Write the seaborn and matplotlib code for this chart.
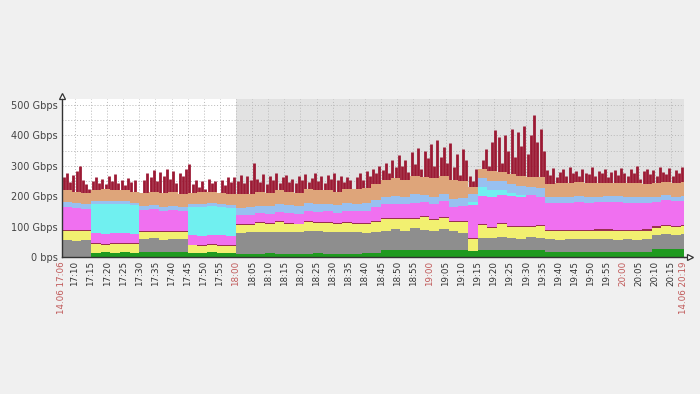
import numpy as np
import pandas as pd
import matplotlib
matplotlib.use("Agg")
import matplotlib.pyplot as plt
import seaborn as sns

# time axis: 14.06 17:06 -> 20:19, minute offsets
start = pd.Timestamp("2000-06-14 17:06")
span = 193
layer_min = np.arange(0, 193, 3)      # layers sampled every 3 minutes
total_min = np.arange(0, 194)         # top (red) series per minute

# stacked layers, Gbps (bottom -> top)
green = [0, 0, 0, 14, 15, 13, 15, 14, 18, 17, 18, 16, 18, 14, 13, 15, 14, 13,
         10, 11, 10, 12, 10, 11, 10, 11, 12, 10, 11, 10, 11, 12, 14,
         22, 23, 22, 24, 23, 22, 24, 23, 22, 20, 22, 23, 22, 24, 23, 22, 23,
         17, 16, 17, 16, 17, 16, 17, 16, 17, 16, 18, 25, 26, 25, 26]
gray = [55, 52, 56, 0, 0, 0, 0, 0, 40, 45, 38, 44, 40, 0, 0, 0, 0, 0,
        68, 70, 72, 70, 73, 71, 72, 74, 72, 73, 71, 72, 70, 66, 68,
        65, 68, 62, 70, 66, 64, 68, 62, 58, 0, 42, 38, 45, 40, 36, 44, 40,
        42, 41, 43, 42, 41, 42, 43, 41, 42, 41, 42, 48, 50, 49, 50]
yellow = [30, 34, 28, 28, 26, 29, 27, 28, 24, 20, 26, 22, 25, 24, 22, 25, 23, 24,
          28, 24, 30, 26, 32, 28, 25, 31, 27, 29, 26, 30, 28, 30, 34,
          38, 34, 40, 32, 42, 36, 38, 30, 34, 38, 40, 34, 42, 36, 40, 34, 38,
          27, 28, 26, 28, 27, 29, 27, 28, 26, 28, 27, 24, 25, 24, 25]
maroon = [4, 3, 4, 3, 3, 3, 3, 3, 3, 3, 3, 3, 3, 3, 3, 3, 3, 3,
          3, 3, 3, 3, 3, 3, 3, 3, 3, 3, 3, 3, 3, 3, 3,
          3, 3, 3, 3, 3, 3, 3, 3, 3, 3, 3, 3, 3, 3, 3, 3, 3,
          4, 4, 4, 4, 4, 4, 4, 4, 4, 4, 4, 4, 4, 4, 4]
pink = [75, 72, 70, 33, 32, 34, 33, 32, 70, 72, 68, 70, 66, 30, 32, 31, 33, 30,
        30, 31, 30, 32, 31, 33, 32, 34, 33, 35, 34, 37, 39, 42, 44,
        45, 48, 46, 50, 47, 48, 50, 46, 50, 110, 95, 100, 92, 98, 96, 100, 94,
        88, 90, 89, 91, 90, 89, 90, 91, 89, 90, 88, 80, 82, 81, 80]
cyan = [0, 0, 0, 98, 100, 96, 98, 94, 0, 0, 0, 0, 0, 93, 96, 94, 92, 90,
        0, 0, 0, 0, 0, 0, 0, 0, 0, 0, 0, 0, 0, 0, 0,
        0, 0, 0, 0, 0, 0, 0, 0, 0, 10, 30, 22, 15, 8, 5, 0, 0,
        0, 0, 0, 0, 0, 0, 0, 0, 0, 0, 0, 0, 0, 0, 0]
sky = [17, 18, 16, 8, 8, 9, 8, 8, 13, 14, 12, 14, 13, 10, 9, 10, 9, 10,
       23, 25, 24, 26, 25, 24, 26, 25, 27, 26, 25, 26, 25, 24, 25,
       24, 26, 25, 27, 24, 26, 25, 28, 26, 25, 28, 30, 30, 32, 30, 28, 30,
       18, 19, 18, 20, 19, 18, 19, 20, 18, 19, 18, 16, 17, 16, 17]
tan = [38, 36, 35, 38, 40, 38, 37, 36, 44, 43, 46, 44, 43, 36, 38, 36, 37, 36,
       45, 44, 45, 43, 46, 45, 44, 45, 46, 44, 45, 47, 47, 50, 52,
       55, 58, 56, 60, 58, 62, 60, 60, 56, 25, 30, 32, 30, 32, 34, 32, 35,
       45, 44, 46, 45, 44, 46, 45, 44, 46, 45, 44, 45, 44, 46, 45]

# top of the stack (dark red peaks), per minute
total = [262, 275, 248, 270, 282, 298, 255, 240, 225,
         250, 262, 245, 258, 240, 265, 250, 272, 245, 255, 238, 260, 248, 255, 195, 212,
         255, 275, 262, 285, 250, 280, 268, 290, 258, 282, 245, 278, 265, 288, 305,
         240, 255, 230, 250, 225, 258, 242, 250, 210, 255, 238, 262, 248,
         262, 250, 270, 245, 268, 255, 308, 258, 248, 272, 240, 265, 252, 275, 245, 262,
         270, 248, 258, 242, 268, 255, 272, 246, 260, 275, 250, 265, 245, 270, 258, 278,
         252, 266, 248, 262, 255,
         190, 262, 275, 255, 282, 268, 290, 278, 298,
         285, 310, 275, 320, 295, 335, 300, 318, 280, 345, 305, 360, 290, 350, 325, 372,
         300, 385, 330, 362, 310, 375, 295, 340, 270, 355, 318,
         265, 250, 290, 275,
         320, 355, 300, 380, 418, 395, 310, 400, 350, 420, 330, 410, 365, 430, 340, 400,
         467, 380, 420, 350,
         285, 270, 292, 262, 280, 288, 268, 295, 275, 282, 265, 290, 278, 272, 296, 268,
         284, 276, 290, 262, 280, 287, 270, 294, 278, 266, 288, 275, 300, 258, 282, 290,
         272, 286, 268, 295, 280, 274, 292, 266, 285, 278, 296, 288]

layer_colors = ["#1f9a1f", "#8e8e8e", "#f2f070", "#9a3050",
                "#f070f0", "#70f0f0", "#98c0f0", "#dea57a"]
top_color = "#9c1a34"

sns.set_style("white")
plt.rcParams["font.family"] = ["DejaVu Sans"]

fig = plt.figure(figsize=(7, 3.94), dpi=100, facecolor="#f0f0f0")
ax = fig.add_axes([62 / 700, 137 / 394, (684 - 62) / 700, 158 / 394])
ax.set_facecolor("white")
ax.axvspan(54, span, color="#e2e2e2", zorder=0, lw=0)

# grid
tick_min = np.arange(4, span, 5)
for m in tick_min:
    ax.axvline(m, color="#b8b8b8", lw=0.7, ls=(0, (1, 2)), zorder=1)
for v in range(50, 501, 50):
    ax.axhline(v, color="#b8b8b8", lw=0.7, ls=(0, (1, 2)), zorder=1)

# top series as thin spikes, layers drawn over it
ax.vlines(np.array(total_min) + 0.5, 0, total, color=top_color, lw=2.0,
          zorder=2, capstyle="butt")

stack = np.vstack([green, gray, yellow, maroon, pink, cyan, sky, tan]).astype(float)
tops = np.cumsum(stack, axis=0)
x_l = np.append(layer_min, span)
prev = np.zeros(len(x_l))
for row, col in zip(tops, layer_colors):
    cur = np.append(row, row[-1])
    ax.fill_between(x_l, prev, cur, step="post", color=col, lw=0, zorder=3)
    prev = cur

ax.set_xlim(0, span)
ax.set_ylim(0, 520)

yt = [0, 100, 200, 300, 400, 500]
ax.set_yticks(yt)
ax.set_yticklabels(["0 bps" if v == 0 else f"{v} Gbps" for v in yt],
                   fontsize=7, color="#444444")

xt = [0] + list(tick_min) + [span]
xl = []
for m in xt:
    t = start + pd.Timedelta(minutes=int(m))
    if m in (0, span):
        xl.append(t.strftime("%d.%m %H:%M"))
    else:
        xl.append(t.strftime("%H:%M"))
ax.set_xticks(xt)
ax.set_xticklabels(xl, rotation=90, fontsize=6.3, color="#333333", va="top")
for lab, m in zip(ax.get_xticklabels(), xt):
    t = start + pd.Timedelta(minutes=int(m))
    if m in (0, span) or t.minute == 0:
        lab.set_color("#c05858")
ax.tick_params(axis="both", length=0, pad=3)

for s in ("top", "right"):
    ax.spines[s].set_visible(False)
for s in ("left", "bottom"):
    ax.spines[s].set_color("#333333")
    ax.spines[s].set_linewidth(1.0)
    ax.spines[s].set_zorder(5)

# axis arrows
ax.plot([0, 0], [1.0, 1.02], color="#333333", lw=1, transform=ax.transAxes, clip_on=False)
ax.plot([0], [1.02], marker="^", ms=4, mfc="white", mec="#333333", mew=0.9,
        transform=ax.transAxes, clip_on=False)
ax.plot([1.0, 1.009], [0, 0], color="#333333", lw=1, transform=ax.transAxes, clip_on=False)
ax.plot([1.009], [0], marker=">", ms=4, mfc="white", mec="#333333", mew=0.9,
        transform=ax.transAxes, clip_on=False)

fig.savefig("out.png", dpi=100, facecolor=fig.get_facecolor())
